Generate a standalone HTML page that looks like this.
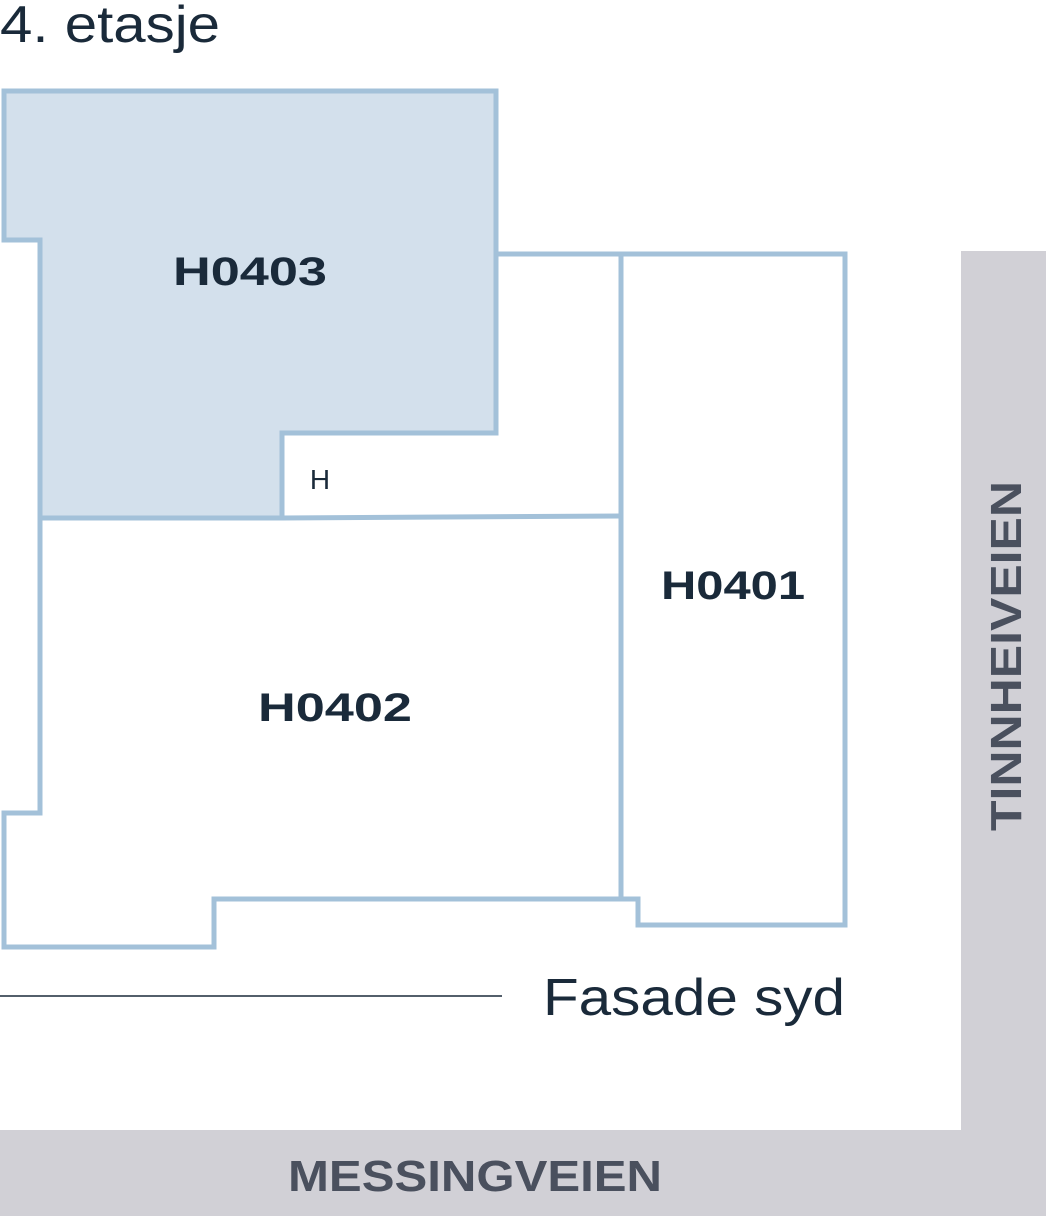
<!DOCTYPE html>
<html><head><meta charset="utf-8"><style>
html,body{margin:0;padding:0;background:#fff}
svg{display:block}
</style></head><body>
<svg width="1046" height="1216" viewBox="0 0 1046 1216" xmlns="http://www.w3.org/2000/svg">
<rect x="961" y="251" width="85" height="965" fill="#d1d0d6"/>
<rect x="0" y="1130" width="1046" height="86" fill="#d1d0d6"/>
<text x="475" y="1191" font-family="Liberation Sans, sans-serif" font-weight="bold" font-size="44" fill="#4a505e" text-anchor="middle" textLength="374" lengthAdjust="spacingAndGlyphs">MESSINGVEIEN</text>
<text transform="translate(1021,656) rotate(-90)" x="0" y="0" font-family="Liberation Sans, sans-serif" font-weight="bold" font-size="44" fill="#4a505e" text-anchor="middle" textLength="350" lengthAdjust="spacingAndGlyphs">TINNHEIVEIEN</text>

<text x="0" y="42" font-family="Liberation Sans, sans-serif" font-size="52" fill="#1a2a3a" textLength="220" lengthAdjust="spacingAndGlyphs">4. etasje</text>

<g fill="none" stroke="#a3c1d9" stroke-width="5">
<polygon points="4,91 496,91 496,433 282,433 282,518 40,518 40,240 4,240" fill="#d3e0ec"/>
<polyline points="496,254 845,254 845,925 638,925 638,899 214,899 214,947 4,947 4,813 40,813 40,518"/>
<line x1="621" y1="254" x2="621" y2="899"/>
<line x1="282" y1="518" x2="621" y2="516"/>
</g>

<g font-family="Liberation Sans, sans-serif" font-weight="bold" font-size="40" fill="#1a2a3a" text-anchor="middle">
<text x="250" y="285" textLength="154" lengthAdjust="spacingAndGlyphs">H0403</text>
<text x="335" y="721" textLength="154" lengthAdjust="spacingAndGlyphs">H0402</text>
<text x="733" y="599" textLength="144" lengthAdjust="spacingAndGlyphs">H0401</text>
</g>
<text x="320" y="489" font-family="Liberation Sans, sans-serif" font-size="28" fill="#1a2a3a" text-anchor="middle">H</text>

<line x1="0" y1="996" x2="502" y2="996" stroke="#1a2a3a" stroke-width="1.5"/>
<text x="543" y="1015" font-family="Liberation Sans, sans-serif" font-size="52" fill="#1a2a3a" textLength="302" lengthAdjust="spacingAndGlyphs">Fasade syd</text>
</svg>
</body></html>
